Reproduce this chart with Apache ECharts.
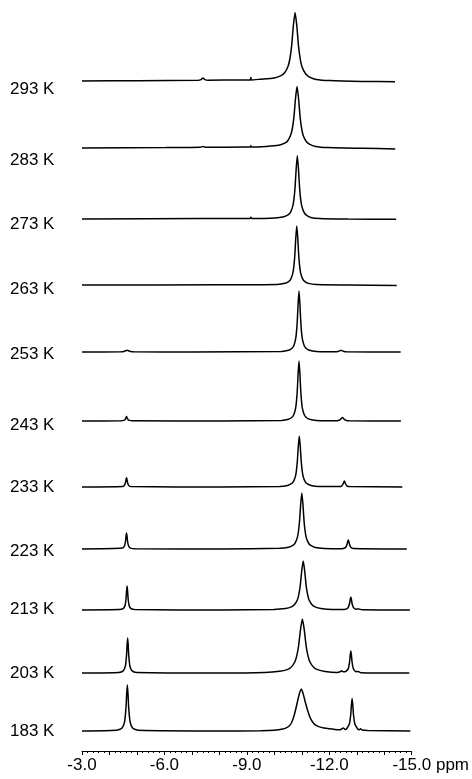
<!DOCTYPE html>
<html><head><meta charset="utf-8">
<script src="https://cdn.jsdelivr.net/npm/echarts@6/dist/echarts.min.js"></script>
<style>html,body{margin:0;padding:0;background:#fff}#c{width:472px;height:779px}</style>
</head><body><div id="c"></div>
<script>
// ---- data (ppm, intensity) ----
const temperatures = ['293 K','283 K','273 K','263 K','253 K','243 K','233 K','223 K','213 K','203 K','183 K'];
const tickValues = [-3, -6, -9, -12, -15];
const tickLabels = ['-3.0', '-6.0', '-9.0', '-12.0', '-15.0'];
const axisUnit = 'ppm';

const spec293 = [[-3.0,0],[-5.0,0.3],[-7.15,0.7],[-7.25,1.4],[-7.32,3.0],[-7.39,1.4],[-7.5,0.8],[-8.6,1.0],[-9.01,1.1],[-9.03,3.6],[-9.05,1.1],[-9.36,1.8],[-9.86,3.0],[-10.11,5.4],[-10.235,8.2],[-10.36,14.8],[-10.423,22],[-10.485,34.7],[-10.548,55],[-10.61,68.5],[-10.673,54.8],[-10.735,34.3],[-10.798,21.4],[-10.86,14.0],[-10.985,7.2],[-11.11,4.2],[-11.36,1.6],[-11.86,0.4],[-13.0,-0.4],[-14.18,-0.8]];
const spec283 = [[-3.0,0],[-6.0,0.4],[-7.22,0.7],[-7.32,1.6],[-7.42,0.7],[-8.8,1.0],[-9.01,1.0],[-9.03,2.2],[-9.05,1.0],[-9.58,1.6],[-10.02,2.7],[-10.24,4.9],[-10.35,7.3],[-10.46,13.4],[-10.515,20],[-10.57,31.3],[-10.625,49.5],[-10.68,61.5],[-10.735,49.3],[-10.79,30.8],[-10.845,19.3],[-10.9,12.6],[-11.01,6.5],[-11.12,3.9],[-11.34,1.5],[-11.78,0.4],[-13.0,-0.3],[-14.19,-0.9]];
const spec273 = [[-3.0,0],[-7.3,0.4],[-9.0,0.5],[-9.03,1.8],[-9.06,0.5],[-9.89,1.0],[-10.21,2.2],[-10.37,4.3],[-10.45,6.9],[-10.53,13.1],[-10.57,19.9],[-10.61,31.8],[-10.65,50.7],[-10.69,63.3],[-10.73,50.5],[-10.77,31.6],[-10.81,19.7],[-10.85,12.9],[-10.93,6.6],[-11.01,3.9],[-11.17,1.6],[-11.49,0.5],[-12.5,0],[-14.22,-0.3]];
const spec263 = [[-3.0,0],[-8.0,0.2],[-9.97,0.6],[-10.25,1.7],[-10.39,3.7],[-10.46,6.1],[-10.53,11.9],[-10.565,18.3],[-10.6,29.5],[-10.635,47.2],[-10.67,59],[-10.705,47.2],[-10.74,29.5],[-10.775,18.3],[-10.81,11.9],[-10.88,6.1],[-10.95,3.7],[-11.09,1.6],[-11.37,0.5],[-12.5,0],[-14.24,-0.6]];
const spec253 = [[-3.0,0],[-4.4,0.2],[-4.52,0.8],[-4.61,1.8],[-4.7,0.8],[-4.85,0.2],[-7.0,0.1],[-10.125,0.6],[-10.375,1.7],[-10.5,3.8],[-10.563,6.3],[-10.625,12.3],[-10.656,18.9],[-10.688,30.5],[-10.719,48.8],[-10.75,61],[-10.781,48.8],[-10.813,30.5],[-10.844,18.9],[-10.875,12.3],[-10.938,6.3],[-11.0,3.8],[-11.125,1.7],[-11.375,0.6],[-12.05,0.2],[-12.17,0.8],[-12.25,1.7],[-12.33,0.8],[-12.45,0.2],[-14.38,0]];
const spec243 = [[-3.0,0],[-4.39,0.2],[-4.49,0.6],[-4.54,1.6],[-4.565,2.9],[-4.59,4.4],[-4.615,2.9],[-4.64,1.6],[-4.69,0.6],[-4.79,0.2],[-8.0,0],[-10.125,0.6],[-10.375,1.7],[-10.5,3.7],[-10.563,6.2],[-10.625,12.1],[-10.656,18.6],[-10.688,30],[-10.719,48],[-10.75,60],[-10.781,48],[-10.813,30],[-10.844,18.6],[-10.875,12.1],[-10.938,6.2],[-11.0,3.7],[-11.125,1.7],[-11.375,0.6],[-12.06,0.2],[-12.18,0.8],[-12.24,1.9],[-12.3,3.6],[-12.36,1.9],[-12.42,0.8],[-12.54,0.2],[-14.39,0]];
const spec233 = [[-3.0,0],[-4.45,0.5],[-4.52,1.9],[-4.555,4.7],[-4.573,7.4],[-4.59,9.3],[-4.608,7.4],[-4.625,4.7],[-4.66,1.9],[-4.73,0.5],[-8.0,0],[-10.06,0.6],[-10.34,1.6],[-10.48,3.3],[-10.55,5.4],[-10.62,10.4],[-10.655,15.9],[-10.69,25.5],[-10.725,40.8],[-10.76,51],[-10.795,40.8],[-10.83,25.5],[-10.865,15.9],[-10.9,10.4],[-10.97,5.4],[-11.04,3.3],[-11.18,1.5],[-11.46,0.5],[-12.19,0.4],[-12.28,1.2],[-12.325,3],[-12.37,6],[-12.415,3],[-12.46,1.2],[-12.55,0.4],[-14.44,0]];
const spec223 = [[-3.0,0],[-4.45,0.9],[-4.52,3.2],[-4.555,8],[-4.573,12.8],[-4.59,16],[-4.608,12.8],[-4.625,8],[-4.66,3.2],[-4.73,0.9],[-4.9,0.2],[-8.0,0],[-10.05,0.7],[-10.37,1.7],[-10.53,3.6],[-10.61,5.9],[-10.69,11.4],[-10.73,17.5],[-10.77,28],[-10.81,44.8],[-10.85,56],[-10.89,44.8],[-10.93,28],[-10.97,17.5],[-11.01,11.4],[-11.09,5.9],[-11.17,3.6],[-11.33,1.6],[-11.65,0.6],[-12.2,0.2],[-12.33,0.5],[-12.42,1.8],[-12.465,4.5],[-12.488,7.2],[-12.51,9],[-12.533,7.2],[-12.555,4.5],[-12.6,1.8],[-12.69,0.5],[-14.6,0]];
const spec213 = [[-3.0,0],[-4.33,0.4],[-4.47,1.4],[-4.54,4.8],[-4.575,12],[-4.593,19.2],[-4.61,24],[-4.628,19.2],[-4.645,12],[-4.68,4.8],[-4.75,1.4],[-4.89,0.4],[-8.0,0],[-9.85,0.6],[-10.27,1.5],[-10.48,3.1],[-10.585,5.2],[-10.69,10.0],[-10.743,15.3],[-10.795,24.5],[-10.848,39.2],[-10.9,49],[-10.953,39.2],[-11.005,24.5],[-11.058,15.3],[-11.11,10.0],[-11.215,5.2],[-11.32,3.1],[-11.53,1.4],[-11.95,0.5],[-12.42,0.8],[-12.51,2.6],[-12.555,6.5],[-12.578,10.4],[-12.6,13],[-12.623,10.4],[-12.645,6.5],[-12.69,2.6],[-12.78,0.8],[-12.89,1.1],[-13.0,0.2],[-14.71,0]];
const spec203 = [[-3.0,0],[-4.31,0.6],[-4.47,2.1],[-4.55,7],[-4.59,17.5],[-4.61,28],[-4.63,35],[-4.65,28],[-4.67,17.5],[-4.71,7],[-4.79,2.1],[-4.95,0.6],[-8.0,0.1],[-9.52,0.6],[-10.06,1.7],[-10.33,3.4],[-10.465,5.7],[-10.6,11.0],[-10.668,16.8],[-10.735,27],[-10.803,43.2],[-10.87,54],[-10.938,43.2],[-11.005,27],[-11.073,16.8],[-11.14,11.0],[-11.275,5.7],[-11.41,3.4],[-11.68,1.6],[-12.1,0.6],[-12.2,1.0],[-12.27,2.2],[-12.34,1.2],[-12.42,1.6],[-12.51,4.4],[-12.555,11],[-12.578,17.6],[-12.6,22],[-12.623,17.6],[-12.645,11],[-12.69,4.4],[-12.78,1.3],[-12.87,1.6],[-12.96,0.3],[-14.69,0]];
const spec183 = [[-3.0,0],[-4.25,0.7],[-4.45,2.7],[-4.55,9.2],[-4.6,23],[-4.625,36.8],[-4.65,46],[-4.675,36.8],[-4.7,23],[-4.75,9.2],[-4.85,2.7],[-5.05,0.7],[-8.0,0],[-9.5,0.3],[-10.0,0.8],[-10.3,1.9],[-10.45,3.4],[-10.55,5.3],[-10.62,8],[-10.68,12],[-10.73,16.5],[-10.78,22],[-10.83,28],[-10.88,34],[-10.93,39],[-10.98,42],[-11.03,39],[-11.08,34],[-11.13,28.5],[-11.18,23.5],[-11.23,19],[-11.28,15],[-11.34,11.3],[-11.42,8],[-11.52,5.6],[-11.64,4.1],[-11.8,3.0],[-12.0,2.2],[-12.2,1.6],[-12.38,1.3],[-12.44,1.8],[-12.51,3.0],[-12.58,1.5],[-12.63,2.2],[-12.73,7],[-12.78,16.5],[-12.805,26],[-12.83,32.5],[-12.855,26],[-12.88,16.5],[-12.93,7],[-13.03,2.2],[-13.08,1.2],[-13.14,2.2],[-13.2,0.9],[-13.4,0.4],[-14.95,0]];

const spectra = [spec293, spec283, spec273, spec263, spec253, spec243, spec233, spec223, spec213, spec203, spec183];

// ---- layout (pixel positions of each trace's baseline and label) ----
const baselineY = [81, 148, 219, 285, 352, 421, 487, 549, 610, 673, 731];
const labelY = [89, 159.5, 223.5, 288.7, 353.5, 424.5, 487, 550.5, 609, 673, 731];
const axisGap = 20; // distance from lowest baseline down to the ppm axis
const FONT = '"Liberation Sans", Arial, sans-serif';

const n = spectra.length;
const grids = [], xAxes = [], yAxes = [], series = [], graphics = [];
for (let i = 0; i < n; i++) {
  const isLast = i === n - 1;
  const below = isLast ? axisGap : 5;
  grids.push({ left: 82, right: 54, top: baselineY[i] - 80, height: 80 + below });
  xAxes.push({
    gridIndex: i, type: 'value', min: -15, max: -3, interval: 1, inverse: true,
    show: isLast, position: 'bottom',
    axisLine: { show: true, onZero: false, lineStyle: { color: '#000', width: 1 } },
    axisTick: { show: true, inside: false, length: 4, lineStyle: { color: '#000', width: 1 } },
    minorTick: { show: true, splitNumber: 5, length: 2, lineStyle: { color: '#000', width: 1 } },
    splitLine: { show: false },
    axisLabel: {
      show: true, margin: 6, color: '#000', fontSize: 17, fontFamily: FONT,
      formatter: function (v) {
        const k = tickValues.indexOf(Math.round(v * 1000) / 1000);
        if (k < 0) return '';
        if (k === tickValues.length - 1) return '{sp|}' + tickLabels[k] + ' ' + axisUnit;
        return tickLabels[k];
      },
      rich: { sp: { width: 38 } }
    }
  });
  yAxes.push({ gridIndex: i, type: 'value', min: -below, max: 80, show: false, splitLine: { show: false } });
  series.push({
    type: 'line', xAxisIndex: i, yAxisIndex: i, data: spectra[i],
    showSymbol: false, symbol: 'none', smooth: 0.2, silent: true,
    lineStyle: { color: '#000', width: 1.5 }
  });
  graphics.push({
    type: 'text', left: 10, top: labelY[i] - 8,
    style: { text: temperatures[i], fill: '#000', font: '17px ' + FONT }
  });
}

const chart = echarts.init(document.getElementById('c'), null, { renderer: 'canvas' });
chart.setOption({
  animation: false,
  backgroundColor: '#fff',
  grid: grids, xAxis: xAxes, yAxis: yAxes, series: series, graphic: graphics
});
</script></body></html>
